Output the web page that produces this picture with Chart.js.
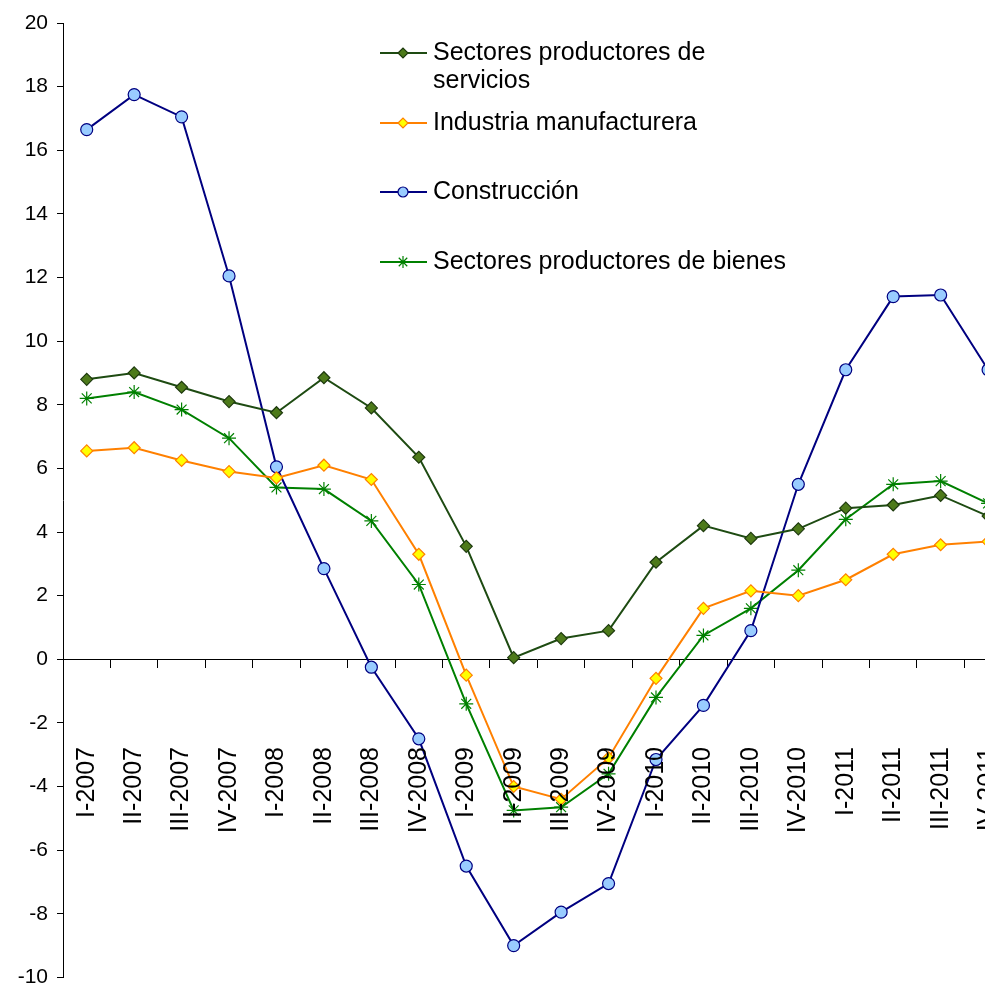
<!DOCTYPE html>
<html>
<head>
<meta charset="utf-8">
<script src="https://cdn.jsdelivr.net/npm/chart.js@4"></script>
<style>
  html, body { margin: 0; padding: 0; overflow: hidden; background: #fff; }
  #wrap { width: 1020px; height: 999px; }
</style>
</head>
<body>
<div id="wrap"><canvas id="myChart" width="1020" height="999"></canvas></div>
<script>
// Quarter labels
const quarters = ['I-2007','II-2007','III-2007','IV-2007','I-2008','II-2008','III-2008','IV-2008',
  'I-2009','II-2009','III-2009','IV-2009','I-2010','II-2010','III-2010','IV-2010',
  'I-2011','II-2011','III-2011','IV-2011'];

const servicios = [8.8, 9.0, 8.55, 8.1, 7.75, 8.85, 7.9, 6.35, 3.55, 0.05, 0.65, 0.9, 3.05, 4.2, 3.8, 4.1, 4.75, 4.85, 5.15, 4.5];
const industria = [6.55, 6.65, 6.25, 5.9, 5.7, 6.1, 5.65, 3.3, -0.5, -4.0, -4.4, -3.1, -0.6, 1.6, 2.15, 2.0, 2.5, 3.3, 3.6, 3.7];
const construccion = [16.65, 17.75, 17.05, 12.05, 6.05, 2.85, -0.25, -2.5, -6.5, -9.0, -7.95, -7.05, -3.15, -1.45, 0.9, 5.5, 9.1, 11.4, 11.45, 9.1];
const bienes = [8.2, 8.4, 7.85, 6.95, 5.4, 5.35, 4.35, 2.35, -1.4, -4.75, -4.65, -3.6, -1.2, 0.75, 1.6, 2.8, 4.4, 5.5, 5.6, 4.9];

const FONT = '"Liberation Sans", Arial, sans-serif';

// Rotated category labels just under the zero line, reading upwards
const quarterLabels = {
  id: 'quarterLabels',
  afterDraw(chart) {
    const ctx = chart.ctx, x = chart.scales.x;
    ctx.save();
    ctx.font = '25px ' + FONT;
    ctx.fillStyle = '#000';
    ctx.textAlign = 'right';
    ctx.textBaseline = 'middle';
    quarters.forEach((q, i) => {
      ctx.save();
      ctx.translate(x.getPixelForValue(i), 747);
      ctx.rotate(-Math.PI / 2);
      ctx.fillText(q, 0, 0);
      ctx.restore();
    });
    ctx.restore();
  }
};

// Legend drawn inside the plot, as in the original
const legendBox = {
  id: 'legendBox',
  afterDraw(chart) {
    const ctx = chart.ctx;
    const rows = [
      { ds: 0, y: 53, text: ['Sectores productores de', 'servicios'] },
      { ds: 1, y: 123, text: ['Industria manufacturera'] },
      { ds: 2, y: 192, text: ['Construcción'] },
      { ds: 3, y: 262, text: ['Sectores productores de bienes'] }
    ];
    ctx.save();
    rows.forEach(r => {
      const d = chart.data.datasets[r.ds];
      ctx.strokeStyle = d.borderColor;
      ctx.lineWidth = 2;
      ctx.beginPath(); ctx.moveTo(380, r.y); ctx.lineTo(427, r.y); ctx.stroke();
      ctx.fillStyle = d.pointBackgroundColor;
      ctx.strokeStyle = d.pointBorderColor;
      ctx.lineWidth = d.pointBorderWidth;
      Chart.helpers.drawPoint(ctx, { pointStyle: d.pointStyle, radius: d.pointRadius - 1, borderWidth: d.pointBorderWidth }, 403, r.y);
      ctx.fillStyle = '#000';
      ctx.font = '25px ' + FONT;
      ctx.textBaseline = 'middle';
      r.text.forEach((t, k) => ctx.fillText(t, 433, r.y + k * 28));
    });
    ctx.restore();
  }
};

function series(label, data, line, fill, border, style, radius) {
  return {
    label: label, data: data,
    borderColor: line, borderWidth: 2,
    pointStyle: style, pointRadius: radius, pointHoverRadius: radius,
    pointBackgroundColor: fill, pointBorderColor: border, pointBorderWidth: 1.2,
    tension: 0
  };
}

new Chart(document.getElementById('myChart'), {
  type: 'line',
  data: {
    labels: quarters,
    datasets: [
      series('Sectores productores de servicios', servicios, '#1e4b12', '#4d7a1a', '#1e3a0e', 'rectRot', 6),
      series('Industria manufacturera', industria, '#ff8000', '#ffff00', '#ff8000', 'rectRot', 6),
      series('Construcción', construccion, '#000080', '#99ccff', '#000080', 'circle', 6),
      series('Sectores productores de bienes', bienes, '#008000', '#008000', '#008000', 'star', 7)
    ]
  },
  options: {
    responsive: false,
    animation: false,
    layout: { padding: { top: 23, bottom: 0, left: 0, right: 2 } },
    scales: {
      x: {
        position: { y: 0 },
        offset: true,
        border: { color: '#000', width: 1 },
        grid: { offset: true, drawOnChartArea: false, drawTicks: true, tickLength: 8, color: '#000' },
        ticks: { callback: () => '', maxRotation: 0 }
      },
      y: {
        min: -10, max: 20,
        border: { color: '#000', width: 1 },
        grid: { drawOnChartArea: false, drawTicks: true, tickLength: 6, color: '#000' },
        ticks: { stepSize: 2, color: '#000', font: { family: FONT, size: 21 }, padding: 9 },
        afterFit: (s) => { s.width = 63; }
      }
    },
    plugins: { legend: { display: false }, tooltip: { enabled: false } }
  },
  plugins: [quarterLabels, legendBox]
});
</script>
</body>
</html>
